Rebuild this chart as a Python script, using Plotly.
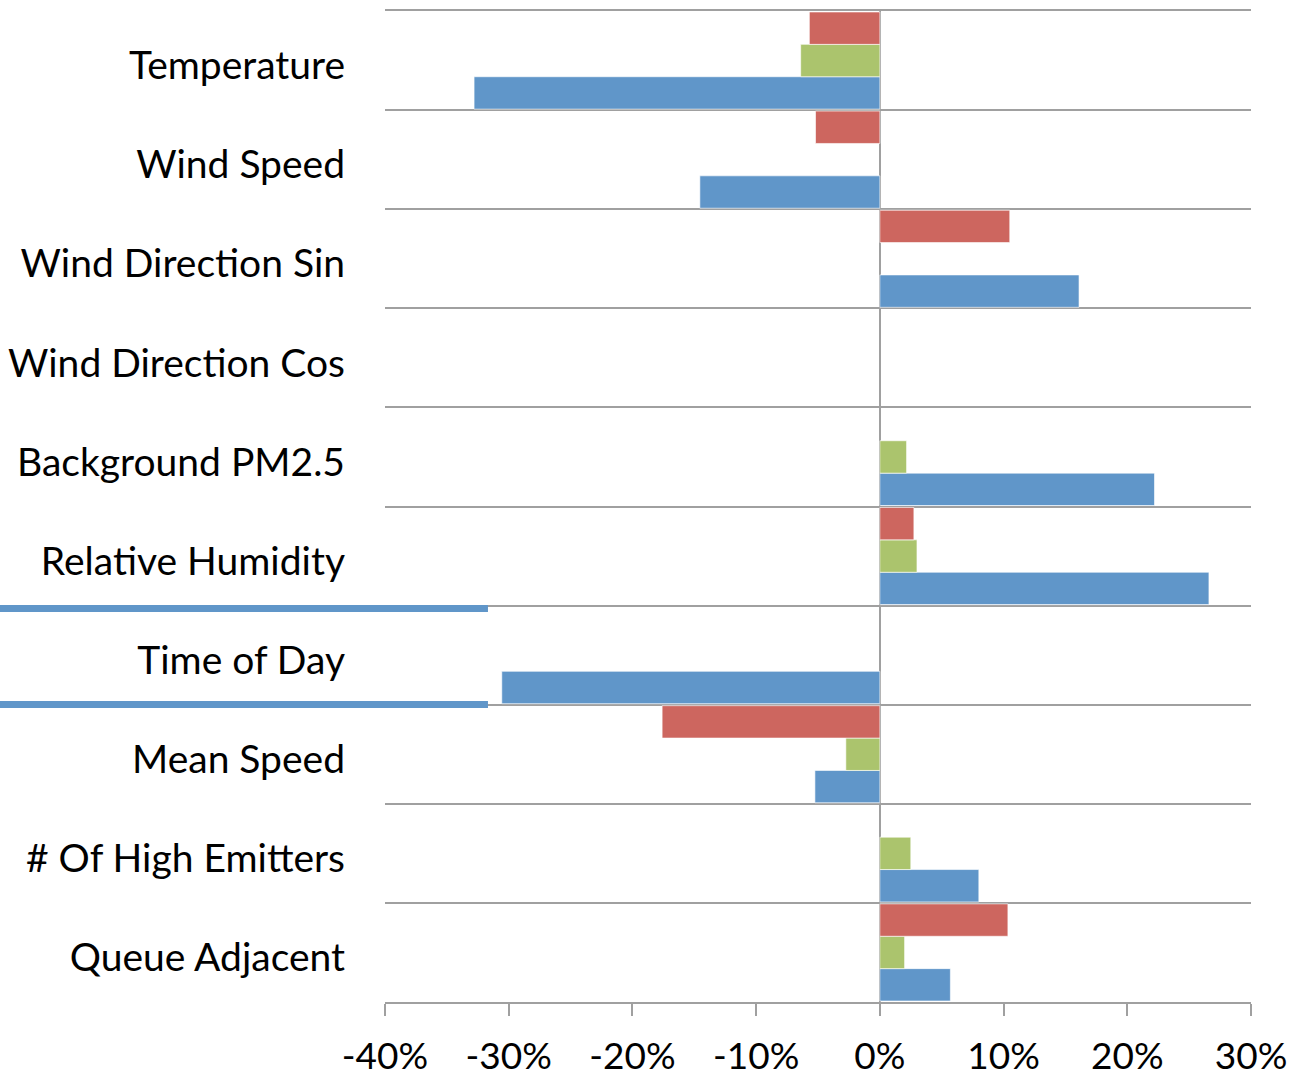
import plotly.graph_objects as go

categories = ["Temperature", "Wind Speed", "Wind Direction Sin", "Wind Direction Cos",
              "Background PM2.5", "Relative Humidity", "Time of Day", "Mean Speed",
              "# Of High Emitters", "Queue Adjacent"]
red_vals = [-0.057, -0.052, 0.105, None, None, 0.0275, None, -0.176, None, 0.1035]
green_vals = [-0.064, None, None, None, 0.0216, 0.030, None, -0.0275, 0.025, 0.020]
blue_vals = [-0.328, -0.1455, 0.161, None, 0.222, 0.266, -0.3056, -0.0525, 0.080, 0.057]

x_ticks = [-0.4, -0.3, -0.2, -0.1, 0, 0.1, 0.2, 0.3]
x_tick_labels = ["-40%", "-30%", "-20%", "-10%", "0%", "10%", "20%", "30%"]

FONT = "Lato"
FSIZE = 39
GRID = "#A0A0A0"

fig = go.Figure()
for name, vals, color in [("Blue", blue_vals, "#6096C9"),
                          ("Green", green_vals, "#ABC46D"),
                          ("Red", red_vals, "#CD665F")]:
    fig.add_trace(go.Bar(
        y=categories, x=vals, orientation="h", name=name,
        marker=dict(color=color, line=dict(color="rgba(255,255,255,0.6)", width=1)),
    ))

fig.update_layout(
    width=1293, height=1077,
    margin=dict(l=385, r=42, t=11, b=75),
    barmode="group", bargap=0.02, bargroupgap=0,
    showlegend=False,
    plot_bgcolor="white", paper_bgcolor="white",
    font=dict(family=FONT, size=FSIZE, color="black"),
    xaxis=dict(
        range=[-0.4, 0.3], tickvals=x_ticks, ticktext=x_tick_labels,
        automargin=False,
        showgrid=False, zeroline=True, zerolinecolor=GRID, zerolinewidth=2,
        showline=True, linecolor=GRID, linewidth=2, mirror=True,
        ticks="outside", ticklen=12, tickcolor=GRID, tickwidth=2,
        ticklabelstandoff=9,
        tickfont=dict(family=FONT, size=37, color="black"),
    ),
    yaxis=dict(
        type="category", categoryorder="array", categoryarray=categories[::-1],
        automargin=False,
        tickson="boundaries", showgrid=True, gridcolor=GRID, gridwidth=2,
        ticks="", showline=False, zeroline=False,
        ticklabelstandoff=39, ticklabelshift=5,
        tickfont=dict(family=FONT, size=FSIZE, color="black"),
    ),
    shapes=[
        dict(type="line", xref="paper", yref="paper", x0=-0.4446, x1=0.1189,
             y0=0.3971, y1=0.3971, line=dict(color="#6096C9", width=7)),
        dict(type="line", xref="paper", yref="paper", x0=-0.4446, x1=0.1189,
             y0=0.3002, y1=0.3002, line=dict(color="#6096C9", width=7)),
    ],
)

fig.write_html("out.html", config={"displayModeBar": False},
               post_script="document.body.style.margin='0';document.body.style.overflow='hidden';")
